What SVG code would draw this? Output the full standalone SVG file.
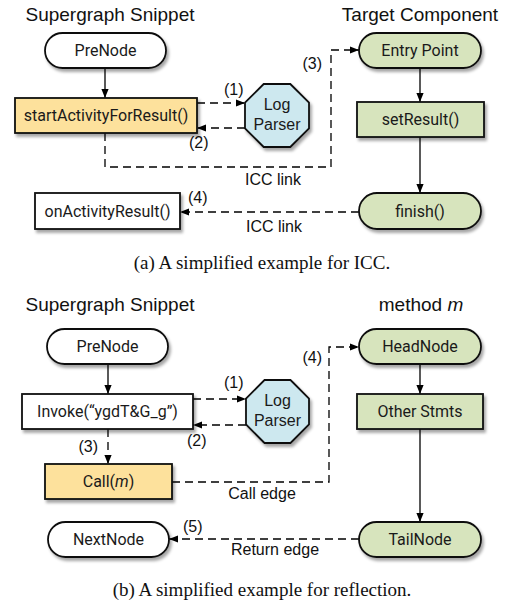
<svg xmlns="http://www.w3.org/2000/svg" width="510" height="604" viewBox="0 0 510 604">
  <defs>
    <filter id="sh" x="-20%" y="-20%" width="140%" height="160%">
      <feDropShadow dx="2" dy="3" stdDeviation="1.8" flood-color="#000" flood-opacity="0.35"/>
    </filter>
    <marker id="ah" viewBox="0 0 10 8" refX="10" refY="4" markerWidth="9" markerHeight="8" markerUnits="userSpaceOnUse" orient="auto">
      <path d="M0,0 L10,4 L0,8 z" fill="#000"/>
    </marker>
    <style>
      .n { stroke: #111; stroke-width: 1.8; filter: url(#sh); }
      .w { fill: #fff; }
      .y { fill: #fde19c; }
      .g { fill: #d7e4bd; }
      .b { fill: #cde8ef; }
      .nt { font-family: Roboto, "Liberation Sans", sans-serif; font-size: 16px; fill: #1a1a1a; text-anchor: middle; }
      .lp { font-family: "Liberation Sans", Arial, sans-serif; font-size: 16px; fill: #1a1a1a; text-anchor: middle; }
      .t { font-family: "Liberation Sans", Arial, sans-serif; font-size: 19px; fill: #111; text-anchor: middle; }
      .l { font-family: "Liberation Sans", Arial, sans-serif; font-size: 16px; fill: #111; }
      .c { font-family: "Liberation Serif", "Times New Roman", serif; font-size: 19px; fill: #111; text-anchor: middle; }
      .s { fill: none; stroke: #000; stroke-width: 1.3; }
      .d { fill: none; stroke: #000; stroke-width: 1.3; stroke-dasharray: 8 5; }
    </style>
  </defs>

  <!-- Titles and captions -->
  <text class="t" x="110" y="21">Supergraph Snippet</text>
  <text class="t" x="420" y="21">Target Component</text>
  <text class="c" x="262" y="269">(a) A simplified example for ICC.</text>
  <text class="t" x="110" y="311">Supergraph Snippet</text>
  <text class="t" x="421" y="311">method <tspan font-style="italic">m</tspan></text>
  <text class="c" x="262" y="596">(b) A simplified example for reflection.</text>

  <!-- Connectors -->
  <g id="connectors">
    <line class="s" x1="105" y1="68" x2="105" y2="98" marker-end="url(#ah)"/>
    <line class="d" x1="197" y1="103" x2="245" y2="103" marker-end="url(#ah)"/>
    <line class="d" x1="245" y1="128" x2="197" y2="128" marker-end="url(#ah)"/>
    <polyline class="d" points="105,133 105,167 331,167 331,50 359,50" marker-end="url(#ah)"/>
    <line class="s" x1="420" y1="68" x2="420" y2="102" marker-end="url(#ah)"/>
    <line class="s" x1="420" y1="137" x2="420" y2="193" marker-end="url(#ah)"/>
    <line class="d" x1="359" y1="212" x2="180" y2="212" marker-end="url(#ah)"/>

    <line class="s" x1="108" y1="364" x2="108" y2="394" marker-end="url(#ah)"/>
    <line class="d" x1="193" y1="399" x2="246" y2="399" marker-end="url(#ah)"/>
    <line class="d" x1="246" y1="425" x2="193" y2="425" marker-end="url(#ah)"/>
    <line class="d" x1="108" y1="429" x2="108" y2="464" marker-end="url(#ah)"/>
    <polyline class="d" points="172,482 329,482 329,347 359,347" marker-end="url(#ah)"/>
    <line class="s" x1="420" y1="364" x2="420" y2="394" marker-end="url(#ah)"/>
    <line class="s" x1="420" y1="429" x2="420" y2="522" marker-end="url(#ah)"/>
    <line class="d" x1="359" y1="539" x2="169" y2="539" marker-end="url(#ah)"/>

    <text class="l" x="224" y="95">(1)</text>
    <text class="l" x="189" y="148">(2)</text>
    <text class="l" x="322" y="69" text-anchor="end">(3)</text>
    <text class="l" x="273" y="185" text-anchor="middle">ICC link</text>
    <text class="l" x="188" y="203">(4)</text>
    <text class="l" x="274" y="232" text-anchor="middle">ICC link</text>

    <text class="l" x="224" y="388">(1)</text>
    <text class="l" x="187" y="446">(2)</text>
    <text class="l" x="98" y="452" text-anchor="end">(3)</text>
    <text class="l" x="322" y="363" text-anchor="end">(4)</text>
    <text class="l" x="262" y="499" text-anchor="middle">Call edge</text>
    <text class="l" x="183" y="532">(5)</text>
    <text class="l" x="275" y="555" text-anchor="middle">Return edge</text>
  </g>

  <!-- (a) nodes -->
  <g id="preNodeA">
    <rect class="n w" x="45" y="33" width="121" height="35" rx="17.5"/>
    <text class="nt" x="105.5" y="56">PreNode</text>
  </g>
  <g id="startActivity">
    <rect class="n y" x="15" y="98" width="182" height="35"/>
    <text class="nt" x="106" y="121">startActivityForResult()</text>
  </g>
  <g id="logParserA">
    <polygon class="n b" points="263.7,84 290.3,84 309,102.7 309,128.3 290.3,147 263.7,147 245,128.3 245,102.7"/>
    <text class="lp" x="277" y="110">Log</text>
    <text class="lp" x="277" y="130">Parser</text>
  </g>
  <g id="onActivityResult">
    <rect class="n w" x="35" y="193" width="145" height="36"/>
    <text class="nt" x="107.5" y="216.5">onActivityResult()</text>
  </g>
  <g id="entryPoint">
    <rect class="n g" x="359" y="33" width="122" height="35" rx="17.5"/>
    <text class="nt" x="420" y="56">Entry Point</text>
  </g>
  <g id="setResult">
    <rect class="n g" x="357" y="102" width="127" height="35"/>
    <text class="nt" x="420.5" y="125">setResult()</text>
  </g>
  <g id="finish">
    <rect class="n g" x="359" y="193" width="122" height="36" rx="18"/>
    <text class="nt" x="420" y="216.5">finish()</text>
  </g>

  <!-- (b) nodes -->
  <g id="preNodeB">
    <rect class="n w" x="47" y="329" width="121" height="35" rx="17.5"/>
    <text class="nt" x="107.5" y="352">PreNode</text>
  </g>
  <g id="invoke">
    <rect class="n w" x="22" y="394" width="171" height="35"/>
    <text class="nt" x="107.5" y="417">Invoke(“ygdT&amp;G_g”)</text>
  </g>
  <g id="logParserB">
    <polygon class="n b" points="264.5,380 290.5,380 309,398.5 309,424.5 290.5,443 264.5,443 246,424.5 246,398.5"/>
    <text class="lp" x="277.5" y="406">Log</text>
    <text class="lp" x="277.5" y="426">Parser</text>
  </g>
  <g id="call">
    <rect class="n y" x="45" y="464" width="127" height="35"/>
    <text class="nt" x="108.5" y="487">Call(<tspan font-style="italic">m</tspan>)</text>
  </g>
  <g id="nextNode">
    <rect class="n w" x="48" y="522" width="121" height="35" rx="17.5"/>
    <text class="nt" x="108.5" y="545">NextNode</text>
  </g>
  <g id="headNode">
    <rect class="n g" x="359" y="329" width="122" height="35" rx="17.5"/>
    <text class="nt" x="420" y="352">HeadNode</text>
  </g>
  <g id="otherStmts">
    <rect class="n g" x="357" y="394" width="126" height="35"/>
    <text class="nt" x="420" y="417">Other Stmts</text>
  </g>
  <g id="tailNode">
    <rect class="n g" x="359" y="522" width="122" height="35" rx="17.5"/>
    <text class="nt" x="420" y="545">TailNode</text>
  </g>
</svg>
